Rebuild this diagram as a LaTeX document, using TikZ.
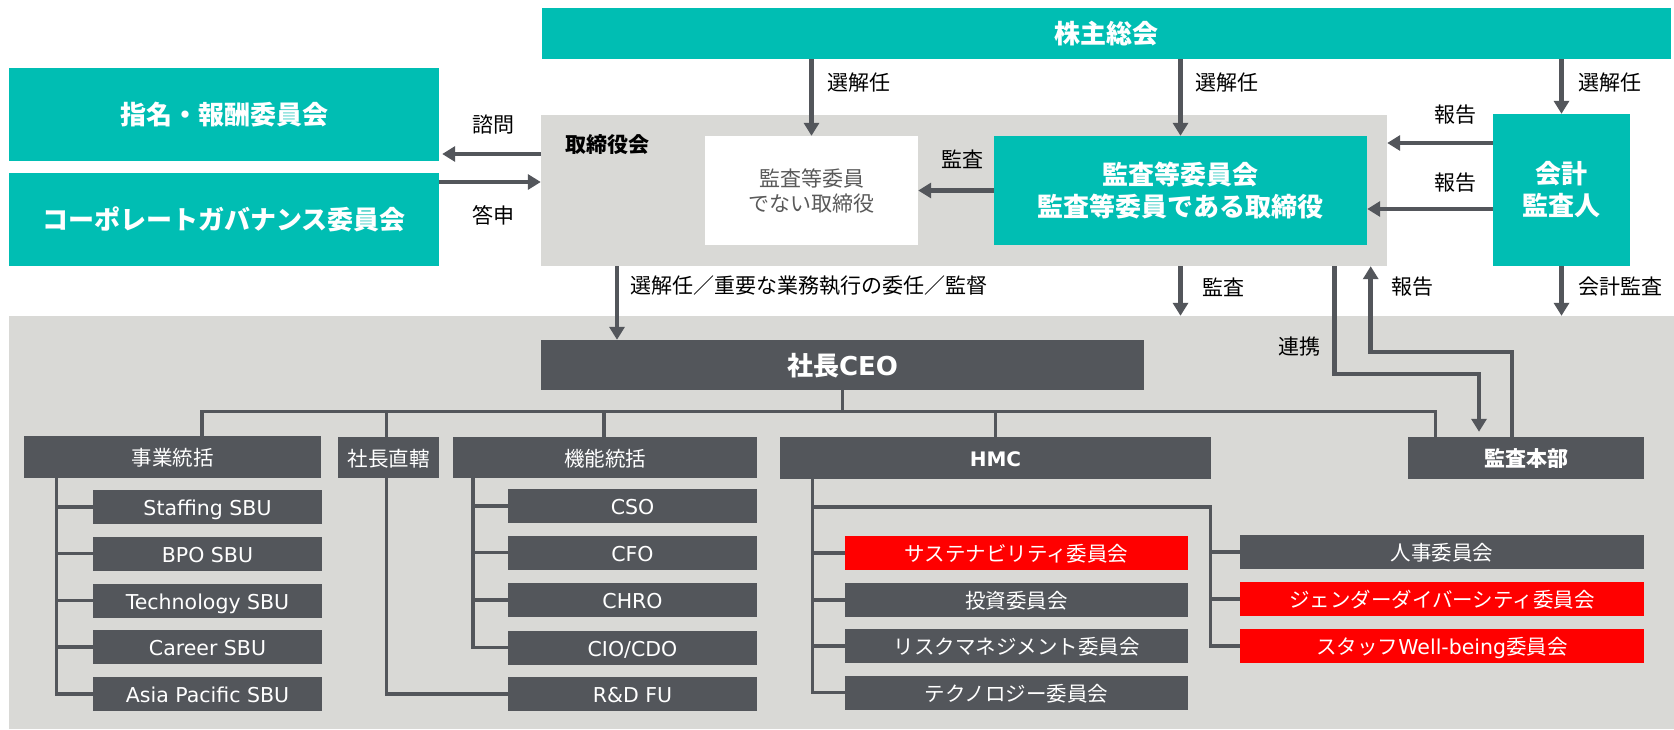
\documentclass[tikz,border=0pt]{standalone}
\usepackage{fontspec}
\setmainfont{DejaVu Sans}
\newfontfamily\cjk{Noto Sans CJK JP}
\usetikzlibrary{arrows.meta}
\definecolor{teal1}{RGB}{0,190,179}
\definecolor{dgray}{RGB}{83,86,91}
\definecolor{lgray}{RGB}{217,217,214}
\definecolor{red1}{RGB}{255,0,0}
\definecolor{txtgray}{RGB}{89,89,89}
\begin{document}
\begin{tikzpicture}[x=1pt,y=-1pt,
  tealbox/.style={fill=teal1,text=white,inner sep=0pt,align=center,font=\cjk\bfseries\fontsize{26}{32}\selectfont},
  darkbox/.style={fill=dgray,text=white,inner sep=0pt,text height=17.5pt,text depth=0.5pt,font=\fontsize{20.5}{24}\selectfont},
  redbox/.style={darkbox,fill=red1},
  lbl/.style={inner sep=0pt,text=black,font=\cjk\fontsize{21}{25}\selectfont},
  arr/.style={draw=dgray,line width=4.5pt,-{Triangle[width=15pt,length=13pt]}},
  tree/.style={draw=dgray,line width=3.5pt},
  sbu/.style={darkbox,minimum width=229pt,minimum height=34pt},
  fun/.style={darkbox,minimum width=249pt,minimum height=34pt},
  hl/.style={minimum width=343pt,minimum height=34pt},
  hr/.style={minimum width=404pt,minimum height=34pt},
]
\useasboundingbox (0,0) rectangle (1674,729);
\fill[white] (0,0) rectangle (1674,729);
% backgrounds
\node[fill=lgray,inner sep=0pt,minimum width=1665pt,minimum height=413pt] (lowbg) at (841.5,522.5) {};
\node[fill=lgray,inner sep=0pt,minimum width=846pt,minimum height=151pt] (board) at (964,190.5) {};
\node[inner sep=0pt,anchor=west,font=\cjk\bfseries\fontsize{21}{25}\selectfont] (boardlbl) at (565,145) {取締役会};
% top boxes
\node[tealbox,minimum width=1129pt,minimum height=51pt] (sh) at (1106.5,33.5) {株主総会};
\node[tealbox,minimum width=430pt,minimum height=93pt] (nom) at (224,114.5) {指名・報酬委員会};
\node[tealbox,minimum width=430pt,minimum height=93pt] (cg) at (224,219.5) {コーポレートガバナンス委員会};
\node[fill=white,text=txtgray,inner sep=0pt,align=center,font=\cjk\fontsize{21}{25}\selectfont,minimum width=213pt,minimum height=109pt] (wb) at (811.5,190.5) {監査等委員\\でない取締役};
\node[tealbox,minimum width=373pt,minimum height=109pt] (ac) at (1180.5,190.5) {監査等委員会\\監査等委員である取締役};
\node[tealbox,minimum width=137pt,minimum height=152pt] (ka) at (1561.5,190) {会計\\監査人};
% lower boxes
\node[darkbox,text height=22pt,text depth=0.5pt,font=\bfseries\fontsize{26}{30}\selectfont,minimum width=603pt,minimum height=50pt] (ceo) at (842.5,365) {{\cjk 社長}CEO};
\node[darkbox,minimum width=297pt,minimum height=42pt] (jg) at (172.5,457) {\cjk 事業統括};
\node[darkbox,minimum width=101pt,minimum height=41pt] (sc) at (388.5,457.5) {\cjk 社長直轄};
\node[darkbox,minimum width=304pt,minimum height=41pt] (kn) at (605,457.5) {\cjk 機能統括};
\node[darkbox,font=\bfseries\fontsize{20}{24}\selectfont,minimum width=431pt,minimum height=42pt] (hmc) at (995.5,458) {HMC};
\node[darkbox,font=\cjk\bfseries\fontsize{21}{24}\selectfont,minimum width=236pt,minimum height=42pt] (kb) at (1526,458) {監査本部};
\node[sbu] (s1) at (207.5,507) {Staffing SBU};
\node[sbu] (s2) at (207.5,553.5) {BPO SBU};
\node[sbu] (s3) at (207.5,600.5) {Technology SBU};
\node[sbu] (s4) at (207.5,647) {Career SBU};
\node[sbu] (s5) at (207.5,694) {Asia Pacific SBU};
\node[fun] (f1) at (632.5,506) {CSO};
\node[fun] (f2) at (632.5,552.5) {CFO};
\node[fun] (f3) at (632.5,600) {CHRO};
\node[fun] (f4) at (632.5,647.5) {CIO/CDO};
\node[fun] (f5) at (632.5,694) {R\&D FU};
\node[redbox,hl] (h1) at (1016.5,553) {\cjk サステナビリティ委員会};
\node[darkbox,hl] (h2) at (1016.5,600) {\cjk 投資委員会};
\node[darkbox,hl] (h3) at (1016.5,646) {\cjk リスクマネジメント委員会};
\node[darkbox,hl] (h4) at (1016.5,692.5) {\cjk テクノロジー委員会};
\node[darkbox,hr] (r1) at (1442,552) {\cjk 人事委員会};
\node[redbox,hr] (r2) at (1442,599) {\cjk ジェンダーダイバーシティ委員会};
\node[redbox,hr] (r3) at (1442,646) {{\cjk スタッフ}Well-being{\cjk 委員会}};
% helper coordinates
\coordinate (bus) at (0,411.5);
\coordinate (bx1) at (202,0);
\coordinate (bx2) at (386.7,0);
\coordinate (bx3) at (604,0);
\coordinate (bx5) at (1435.6,0);
\coordinate (v1) at (56.7,0);
\coordinate (v3) at (473,0);
\coordinate (v4) at (812.5,0);
\coordinate (v5) at (1210.7,0);
\coordinate (h507) at (0,507);
\coordinate (y143) at (0,143);
\coordinate (y209) at (0,209);
\coordinate (y154) at (0,154);
\coordinate (y182) at (0,182);
\coordinate (x617) at (617,0);
\coordinate (x1335) at (1334.7,0);
\coordinate (x1479) at (1479,0);
\coordinate (x1512) at (1512,0);
\coordinate (x1371) at (1370.7,0);
\coordinate (y374) at (0,374);
\coordinate (y352) at (0,352);
% tree
\draw[tree] (jg.north -| bx1) |- (bus -| bx5) -- (kb.north -| bx5);
\draw[tree] (sc.north -| bx2) -- (bus -| bx2);
\draw[tree] (kn.north -| bx3) -- (bus -| bx3);
\draw[tree] (hmc.north) -- (bus -| hmc.north);
\draw[tree] (ceo.south) -- (bus -| ceo.south);
\draw[tree] (jg.south -| v1) |- (s5.west);
\foreach \n in {s1,s2,s3,s4} \draw[tree] (\n.west -| v1) -- (\n.west);
\draw[tree] (sc.south -| bx2) |- (f5.west);
\draw[tree] (kn.south -| v3) |- (f4.west);
\foreach \n in {f1,f2,f3} \draw[tree] (\n.west -| v3) -- (\n.west);
\draw[tree] (hmc.south -| v4) |- (h4.west);
\foreach \n in {h1,h2,h3} \draw[tree] (\n.west -| v4) -- (\n.west);
\draw[tree] (v4 |- h507) -| (r3.west -| v5) -- (r3.west);
\foreach \n in {r1,r2} \draw[tree] (\n.west -| v5) -- (\n.west);
% arrows
\draw[arr] (sh.south -| wb.north) -- (wb.north);
\draw[arr] (sh.south -| ac.north) -- (ac.north);
\draw[arr] (sh.south -| ka.north) -- (ka.north);
\draw[arr] (ac.west) -- (wb.east);
\draw[arr] (ka.west |- y143) -- (board.east |- y143);
\draw[arr] (ka.west |- y209) -- (ac.east |- y209);
\draw[arr,shorten >=3pt] (board.west |- y154) -- (nom.east |- y154);
\draw[arr] (cg.east |- y182) -- (board.west |- y182);
\draw[arr] (board.south -| x617) -- (ceo.north -| x617);
\draw[arr] (board.south -| ac.south) -- (lowbg.north -| ac.south);
\draw[arr] (ka.south) -- (lowbg.north -| ka.south);
\draw[arr,shorten >=5pt] (board.south -| x1335) |- (y374 -| x1479) -- (kb.north -| x1479);
\draw[arr] (kb.north -| x1512) |- (y352 -| x1371) -- (board.south -| x1371);
% labels
\node[lbl,anchor=west] (l1) at (827,83) {選解任};
\node[lbl,anchor=west] (l2) at (1195,83) {選解任};
\node[lbl,anchor=west] (l3) at (1578,83) {選解任};
\node[lbl] (l4) at (962,159) {監査};
\node[lbl] (l5) at (1455.5,115) {報告};
\node[lbl] (l6) at (1455.5,183) {報告};
\node[lbl] (l7) at (493,125) {諮問};
\node[lbl] (l8) at (493,215) {答申};
\node[lbl,anchor=west] (l9) at (630,286) {選解任／重要な業務執行の委任／監督};
\node[lbl,anchor=west] (l10) at (1202,287) {監査};
\node[lbl,anchor=west] (l11) at (1578,287) {会計監査};
\node[lbl,anchor=west] (l12) at (1391,287) {報告};
\node[lbl] (l13) at (1299.5,347) {連携};
\end{tikzpicture}
\end{document}
